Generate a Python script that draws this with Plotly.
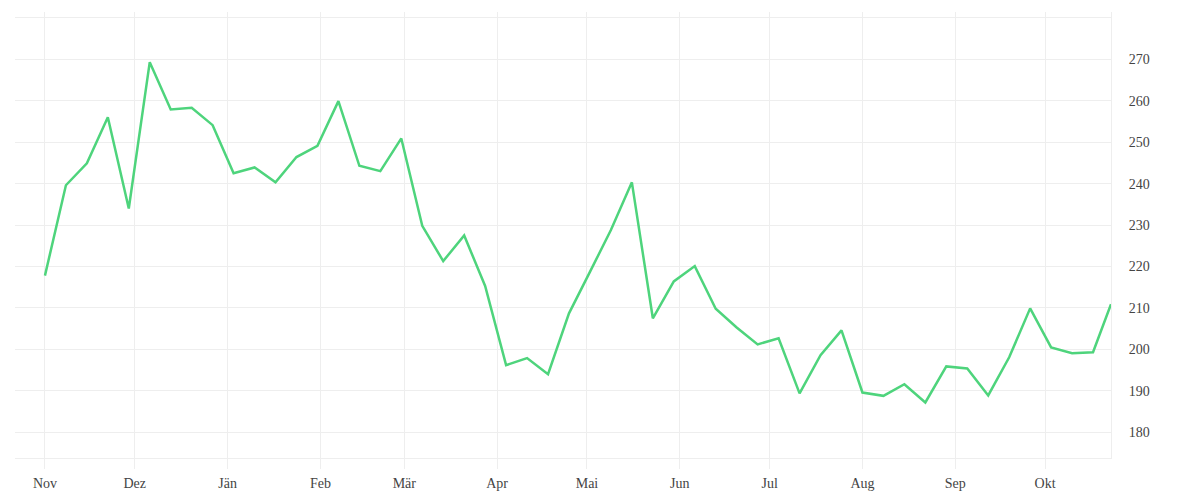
import pandas as pd
import plotly.graph_objects as go

# weekly values, last point is a partial week
dates = list(pd.date_range("2022-11-01", periods=51, freq="7D")) + [pd.Timestamp("2023-10-23")]
values = [
    217.8, 239.6, 244.9, 256.0, 234.0, 269.3, 257.9, 258.3, 254.1, 242.5,
    243.9, 240.3, 246.4, 249.1, 259.9, 244.3, 243.0, 250.9, 229.8, 221.3,
    227.5, 215.3, 196.2, 197.9, 194.0, 208.7, 218.7, 228.8, 240.3, 207.5,
    216.4, 220.1, 209.8, 205.3, 201.2, 202.7, 189.4, 198.6, 204.6, 189.6,
    188.8, 191.6, 187.2, 195.9, 195.4, 188.9, 198.1, 209.9, 200.5, 199.1,
    199.3, 210.9,
]

month_ticks = pd.date_range("2022-11-01", periods=12, freq="MS")
month_labels = ["Nov", "Dez", "Jän", "Feb", "Mär", "Apr",
                "Mai", "Jun", "Jul", "Aug", "Sep", "Okt"]

y_ticks = [180, 190, 200, 210, 220, 230, 240, 250, 260, 270, 280]
y_labels = [str(v) for v in y_ticks[:-1]] + [""]

grid = "#eeeeee"
font = dict(family="Liberation Serif, serif", size=14, color="#444444")

fig = go.Figure()
fig.add_trace(go.Scatter(
    x=dates,
    y=values,
    mode="lines",
    line=dict(color="#4ed47c", width=2.5),
    hoverinfo="x+y",
))

# the page body adds an 8px offset, margins compensate for it
fig.update_layout(
    width=1200,
    height=500,
    margin=dict(l=7, r=97, t=4, b=50),
    plot_bgcolor="white",
    paper_bgcolor="white",
    showlegend=False,
    font=font,
    xaxis=dict(
        range=[pd.Timestamp("2022-10-22"), pd.Timestamp("2023-10-23")],
        tickvals=month_ticks,
        ticktext=month_labels,
        showgrid=True,
        gridcolor=grid,
        gridwidth=1,
        showline=True,
        linecolor=grid,
        ticks="outside",
        ticklen=10,
        tickcolor=grid,
        ticklabelstandoff=2,
        zeroline=False,
    ),
    yaxis=dict(
        side="right",
        range=[173.8, 281.4],
        tickvals=y_ticks,
        ticktext=y_labels,
        showgrid=True,
        gridcolor=grid,
        gridwidth=1,
        showline=True,
        linecolor=grid,
        ticks="",
        ticklabelstandoff=14,
        zeroline=False,
    ),
)

fig.write_html("out.html")
